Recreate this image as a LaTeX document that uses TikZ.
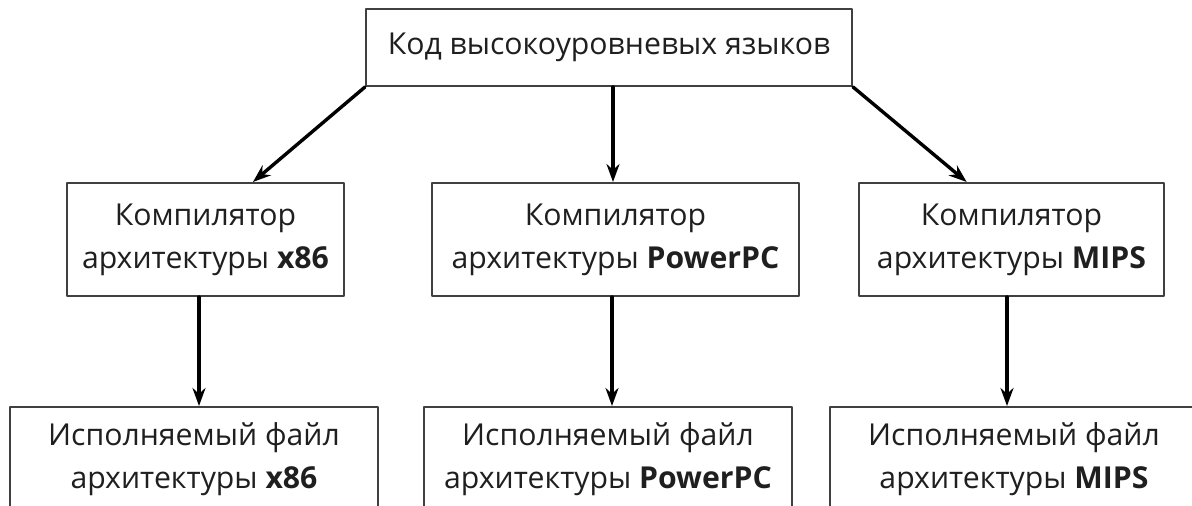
\documentclass[tikz,border=0pt]{standalone}
\usepackage{fontspec}
\setmainfont{Open Sans}
\usetikzlibrary{calc,arrows.meta}

\tikzset{
	box/.style={draw=black!75, line width=1pt, fill=white, inner sep=0pt, align=center,
		text=black!88, font=\fontsize{15.1}{21.5}\selectfont},
	arrow/.style={->, line width=1.7pt, black}
}

\begin{document}
\begin{tikzpicture}[line cap=round, line join=round, >={Stealth[length=9pt,width=6.5pt]}, x=0.5pt, y=-0.5pt]
			% Define picture bounds (pixels of the reference)
			\def\wmax{1192} \def\hmax{506}
			\useasboundingbox (0,0) rectangle (\wmax,\hmax);
			\clip (0,0) rectangle (\wmax,\hmax);
			
			% Source code box
			\node[box, minimum width=243pt, minimum height=38.5pt] (code) at (609,47.5)
				{Код высокоуровневых языков};
			
			% Compilers
			\node[box, minimum width=138.5pt, minimum height=56.5pt] (compx86) at (205.5,239.5)
				{Компилятор\\архитектуры \textbf{x86}};
			\node[box, minimum width=183.5pt, minimum height=56.5pt] (compppc) at (615.5,239.5)
				{Компилятор\\архитектуры \textbf{PowerPC}};
			\node[box, minimum width=152.5pt, minimum height=56.5pt] (compmips) at (1011.5,239.5)
				{Компилятор\\архитектуры \textbf{MIPS}};
			
			% Executables (cut by the lower edge)
			\node[box, minimum width=184pt, minimum height=52pt] (exex86) at (194,459)
				{Исполняемый файл\\архитектуры \textbf{x86}};
			\node[box, minimum width=184pt, minimum height=52pt] (exeppc) at (608,459)
				{Исполняемый файл\\архитектуры \textbf{PowerPC}};
			\node[box, minimum width=184pt, minimum height=52pt] (exemips) at (1014,459)
				{Исполняемый файл\\архитектуры \textbf{MIPS}};
			
			% Arrows from the source code to the compilers
			\draw[arrow] (code.south west) -- ($(compx86.north west)!.67!(compx86.north east)$);
			\draw[arrow] (code.south -| 613,0) -- (compppc.north -| 613,0);
			\draw[arrow] (code.south east) -- ($(compmips.north west)!.354!(compmips.north east)$);
			
			% Arrows from the compilers to the executables
			\draw[arrow] (compx86.south -| 199,0) -- (exex86.north -| 199,0);
			\draw[arrow] (compppc.south -| 612,0) -- (exeppc.north -| 612,0);
			\draw[arrow] (compmips.south -| 1007,0) -- (exemips.north -| 1007,0);
		\end{tikzpicture}
\end{document}
